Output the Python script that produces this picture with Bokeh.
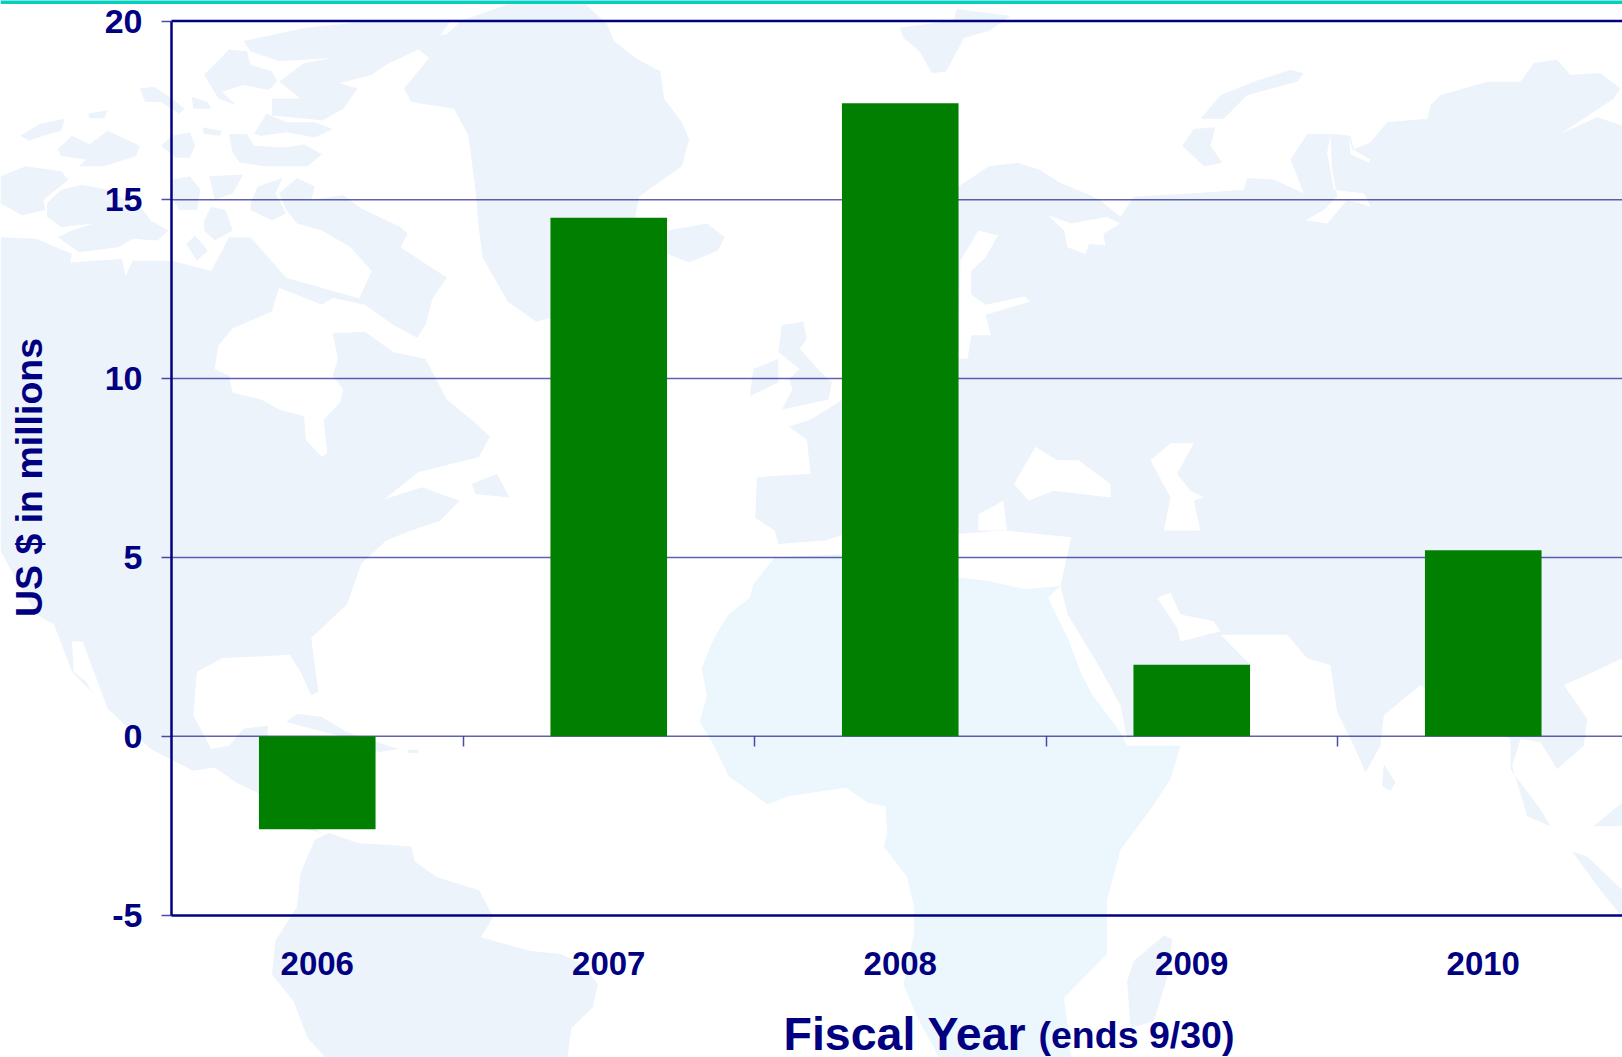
import math

from bokeh.embed import file_html
from bokeh.models import FixedTicker, Label, LinearAxis, Range1d
from bokeh.plotting import figure
from bokeh.resources import INLINE

# Chart data
years = ["2006", "2007", "2008", "2009", "2010"]
results = [-2.6, 14.5, 17.7, 2.0, 5.2]
y_ticks = [-5, 0, 5, 10, 15, 20]
y_tick_labels = ["-5", "0", "5", "10", "15", "20"]
grid_levels = [0, 5, 10, 15]

# Page geometry
WIDTH, HEIGHT = 1622, 1057
PLOT_LEFT = 171.0
CATEGORY_PX = 291.5
ZERO_PX = 735.7
UNIT_PX = 35.76

NAVY = "#000080"
GREEN = "#007F00"
TEAL = "#06CFC0"
FONT = "Liberation Sans"
LAND = "#EDF3FA"
LAND_WARM = "#ECF7FD"
WATER = "#FFFFFF"


def x_at(px):
    return (px - PLOT_LEFT) / CATEGORY_PX


def y_at(py):
    return (ZERO_PX - py) / UNIT_PX


# Backdrop outlines are traced on six tiles of the page: origin and stretch of each tile
TILES = {
    "NW": (0, 0, 2.8, 2.958),
    "SW": (0, 530, 2.8, 2.975),
    "NC": (560, 0, 2.8, 2.958),
    "SC": (560, 530, 2.8, 2.975),
    "NE": (1120, 0, 3.0, 2.958),
    "SE": (1120, 530, 3.0, 2.975),
}


def outline(*parts):
    xs, ys = [], []
    for tile, pts in parts:
        ox, oy, sx, sy = TILES[tile]
        for a, b in pts:
            xs.append(x_at(ox + a / sx))
            ys.append(y_at(oy + b / sy))
    return xs, ys


land_shapes = [
    # North and Central America
    outline(
        ("NW", [(0, 700), (100, 705), (200, 750), (195, 775), (340, 765), (350, 815), (370, 770),
                (480, 770), (590, 800), (640, 700), (700, 700), (800, 820), (1000, 880),
                (1100, 1040), (1190, 1060), (1250, 1180), (1330, 1250), (1370, 1290),
                (1340, 1350), (1170, 1395), (1075, 1475), (1180, 1440), (1285, 1480), (1230, 1540),
                (1150, 1568)]),
        ("SW", [(1080, 30), (1010, 100), (970, 220), (870, 320), (890, 480), (870, 490), (840, 420),
                (810, 370), (620, 380), (550, 420), (540, 550), (590, 650), (640, 640), (680, 590),
                (750, 580), (740, 700), (830, 860), (900, 900), (860, 890), (720, 780), (660, 750),
                (600, 705), (540, 715), (420, 650), (310, 540), (200, 420), (150, 280), (100, 250),
                (20, 100), (0, 60)]),
    ),
    # Newfoundland
    outline(("NW", [(1320, 1430), (1390, 1400), (1425, 1470), (1330, 1460)])),
    # Cuba and Hispaniola
    outline(("SW", [(800, 570), (830, 545), (900, 555), (970, 600), (1115, 650), (1060, 660), (980, 620)])),
    outline(("SW", [(1140, 652), (1170, 652), (1170, 662), (1140, 662)])),
    # Arctic archipelago
    outline(("NW", [(55, 400), (110, 365), (180, 350), (170, 385), (120, 400), (80, 415)])),
    outline(("NW", [(160, 440), (200, 400), (250, 425), (300, 385), (330, 400), (390, 430), (380, 460),
                    (290, 490), (220, 490), (240, 470), (170, 460)])),
    outline(("NW", [(245, 335), (300, 325), (290, 348), (250, 348)])),
    outline(("NW", [(390, 260), (430, 255), (480, 290), (515, 320), (500, 335), (450, 300), (405, 300)])),
    outline(("NW", [(535, 285), (580, 300), (590, 320), (540, 320)])),
    outline(("NW", [(565, 375), (620, 385), (615, 400), (570, 395)])),
    outline(("NW", [(0, 520), (70, 490), (170, 505), (190, 530), (120, 590), (125, 620), (60, 635), (0, 600)])),
    outline(("NW", [(130, 600), (170, 560), (230, 545), (300, 560), (350, 590), (400, 620), (420, 650),
                    (470, 680), (440, 710), (370, 705), (330, 730), (220, 745), (160, 700), (200, 680),
                    (260, 660), (170, 670), (130, 640)])),
    outline(("NW", [(480, 400), (530, 390), (545, 430), (530, 465), (490, 465), (450, 430)])),
    outline(("NW", [(480, 530), (530, 520), (560, 560), (550, 620), (500, 620), (480, 580)])),
    outline(("NW", [(585, 520), (680, 515), (650, 570), (600, 590)])),
    outline(("NW", [(700, 600), (720, 550), (790, 525), (770, 570), (800, 630), (760, 650), (700, 620)])),
    outline(("NW", [(780, 570), (830, 525), (880, 550), (870, 590), (960, 575), (1010, 615), (1120, 670),
                    (1140, 690), (1120, 730), (1250, 820), (1210, 880), (1190, 960), (1165, 1000),
                    (1040, 930), (1000, 890), (1040, 800), (980, 730), (900, 680), (830, 660), (800, 620)])),
    outline(("NW", [(570, 650), (590, 610), (630, 620), (650, 680), (600, 710), (570, 680)])),
    outline(("NW", [(520, 720), (545, 695), (580, 740), (550, 770)])),
    outline(("NW", [(640, 395), (690, 395), (710, 430), (800, 435), (850, 425), (900, 455), (860, 490),
                    (740, 490), (670, 480), (650, 450)])),
    outline(("NW", [(710, 395), (745, 335), (800, 360), (880, 360), (930, 380), (880, 405), (800, 390), (730, 400)])),
    outline(("NW", [(620, 270), (680, 250), (750, 265), (775, 240), (760, 210), (700, 190), (690, 150),
                    (640, 145), (570, 220), (610, 290), (660, 310)])),
    outline(("NW", [(860, 80), (1050, 60), (1260, 60), (1220, 120), (1080, 190), (1040, 220), (950, 245),
                    (1000, 260), (960, 320), (900, 355), (860, 350), (760, 340), (760, 290), (840, 290),
                    (780, 240), (850, 185), (930, 170), (780, 180), (700, 150), (680, 120)])),
    # Greenland
    outline(
        ("NW", [(1500, 950), (1420, 890), (1350, 760), (1340, 680), (1330, 560), (1310, 400), (1270, 320),
                (1150, 300), (1130, 260), (1200, 170), (1140, 120), (1250, 100), (1290, 60), (1450, 0)]),
        ("NC", [(60, 0), (130, 70), (150, 120), (210, 170), (280, 210), (290, 290), (340, 360), (360, 410),
                (340, 490), (220, 580), (210, 640), (100, 900)]),
    ),
    # North Atlantic islands
    outline(("NC", [(300, 680), (410, 660), (460, 700), (440, 740), (360, 775), (300, 750)])),
    outline(("NC", [(620, 960), (680, 950), (690, 1000), (670, 1030), (720, 1090), (760, 1130), (750, 1180),
                    (620, 1210), (650, 1150), (640, 1120), (670, 1090), (610, 1040)])),
    outline(("NC", [(540, 1090), (610, 1060), (610, 1130), (530, 1170)])),
    outline(("NC", [(950, 80), (1100, 60), (1110, 25), (1260, 45), (1200, 90), (1130, 110), (1080, 210),
                    (1040, 215), (1005, 150), (960, 110)])),
    # Arctic Russia islands
    outline(("NE", [(240, 350), (300, 280), (400, 240), (510, 205), (550, 215), (530, 240), (380, 280), (310, 350)])),
    outline(("NE", [(185, 430), (220, 380), (285, 375), (270, 430), (305, 480), (250, 490)])),
    # Eurasia
    outline(
        ("NC", [(640, 1260), (690, 1300), (700, 1400), (550, 1410), (545, 1530), (600, 1568)]),
        ("SC", [(610, 40), (740, 30), (800, 10), (1120, 10), (1240, 0), (1430, 20), (1400, 165), (1420, 250),
                (1500, 390), (1568, 520)]),
        ("SE", [(20, 620), (390, 400), (300, 310), (500, 310), (560, 380), (630, 400), (650, 540), (700, 640),
                (735, 720), (780, 640), (790, 550), (900, 460), (1170, 620), (1170, 710), (1260, 830),
                (1290, 880), (1220, 850), (1175, 700), (1200, 620), (1260, 630), (1310, 710), (1390, 640),
                (1400, 560), (1330, 460), (1420, 420), (1506, 380)]),
        ("NE", [(1506, 370), (1430, 345), (1320, 395), (1480, 290), (1500, 260), (1440, 215), (1350, 220),
                (1310, 175), (1240, 185), (1200, 240), (1100, 240), (960, 280), (930, 310), (920, 350),
                (800, 360), (750, 420), (700, 440), (690, 400), (635, 395), (560, 395), (510, 470),
                (550, 570), (460, 530), (380, 525), (370, 560), (220, 570), (40, 580), (0, 640)]),
        ("NC", [(1510, 590), (1470, 570), (1400, 540), (1340, 500), (1280, 480), (1200, 490), (1114, 550),
                (950, 800), (790, 1180), (700, 1240)]),
    ),
    # Islands of the Indian Ocean and beyond
    outline(("SE", [(130, 1205), (155, 1215), (140, 1330), (100, 1460), (30, 1480), (20, 1340), (40, 1280)])),
    outline(("SE", [(790, 695), (825, 750), (810, 775), (785, 760)])),
    outline(("SE", [(1420, 880), (1480, 830), (1506, 810), (1506, 880)])),
    outline(("SE", [(1355, 955), (1400, 970), (1506, 1070), (1506, 1150), (1440, 1070)])),
    # South America
    outline(
        ("SW", [(880, 920), (920, 900), (1000, 930), (1150, 940), (1160, 985), (1220, 1030), (1340, 1070),
                (1380, 1150), (1345, 1210), (1480, 1250), (1568, 1260)]),
        ("SC", [(60, 1290), (105, 1350), (90, 1420), (30, 1480), (20, 1568)]),
        ("SW", [(910, 1568), (860, 1510), (820, 1400), (760, 1320), (770, 1220), (830, 1120), (840, 1020)]),
    ),
]

warm_shapes = [
    # Africa
    outline(
        ("SC", [(600, 80), (540, 160), (530, 200), (470, 250), (430, 320), (395, 410), (410, 490), (390, 570),
                (430, 640), (470, 730), (580, 815), (640, 790), (800, 765), (860, 810), (910, 820), (915, 900),
                (905, 940), (970, 1030), (990, 1120), (990, 1200), (960, 1350), (1000, 1450), (1060, 1568),
                (1430, 1568), (1410, 1390), (1530, 1260), (1530, 1100), (1568, 950)]),
        ("SE", [(90, 830), (150, 740), (180, 640), (20, 640)]),
        ("SC", [(1568, 600), (1490, 490), (1460, 430), (1420, 320), (1365, 200), (1400, 165), (1300, 175),
                (1200, 150), (1115, 140), (790, 70)]),
    ),
]

water_shapes = [
    # Hudson Bay and strait
    outline(("NW", [(610, 1020), (650, 970), (760, 920), (780, 850), (900, 900), (930, 880), (1020, 900),
                    (1100, 960), (1170, 1000), (1190, 1060), (1100, 1040), (1020, 980), (930, 985), (945, 1060),
                    (930, 1110), (960, 1150), (950, 1190), (905, 1240), (915, 1340), (900, 1350), (855, 1300),
                    (850, 1230), (780, 1210), (730, 1180), (650, 1160), (640, 1110), (600, 1090)])),
    outline(("NW", [(950, 780), (985, 760), (985, 795), (950, 800)])),
    # Gulf of California
    outline(("SW", [(200, 330), (230, 330), (300, 530), (280, 530), (240, 450), (205, 420)])),
    # Baltic and White Seas
    outline(("NC", [(1120, 770), (1170, 680), (1225, 695), (1190, 760), (1150, 800), (1150, 870), (1190, 900),
                    (1300, 875), (1315, 890), (1190, 930), (1205, 990), (1150, 990), (1140, 1060), (1114, 1060)])),
    outline(("NC", [(1365, 635), (1430, 660), (1530, 640), (1568, 660), (1520, 690), (1525, 725), (1480, 720),
                    (1470, 750), (1420, 730), (1410, 680)])),
    # Black Sea, Aegean and Caspian
    outline(("NC", [(1270, 1430), (1330, 1320), (1390, 1360), (1450, 1360), (1540, 1430), (1540, 1470),
                    (1380, 1450), (1310, 1480)])),
    outline(("NC", [(1170, 1520), (1240, 1480), (1250, 1568), (1170, 1568)])),
    outline(("NE", [(90, 1360), (150, 1310), (220, 1310), (170, 1400), (210, 1450), (250, 1470), (220, 1480),
                    (240, 1568), (130, 1568), (150, 1470)])),
    # Persian Gulf
    outline(("SE", [(110, 200), (150, 185), (180, 250), (280, 270), (300, 300), (180, 330), (170, 290)])),
    # Gulf of Ob
    outline(("NE", [(630, 400), (620, 450), (640, 560), (680, 565), (730, 570), (750, 610), (720, 600),
                    (680, 590), (620, 660), (555, 650), (610, 620), (650, 580), (635, 500)])),
    outline(("NE", [(685, 400), (695, 440), (750, 470), (745, 480), (690, 455)])),
]

p = figure(
    width=WIDTH,
    height=HEIGHT,
    output_backend="svg",
    toolbar_location=None,
    x_range=Range1d(x_at(0), x_at(WIDTH)),
    y_range=Range1d(y_at(HEIGHT), y_at(0)),
    x_axis_location=None,
    y_axis_location=None,
    min_border=0,
    min_border_left=0,
    min_border_right=0,
    min_border_top=0,
    min_border_bottom=0,
    outline_line_color=None,
    background_fill_color="white",
    border_fill_color="white",
)
p.grid.visible = False

# Faint world map behind the chart
p.patches([s[0] for s in land_shapes], [s[1] for s in land_shapes],
          fill_color=LAND, line_color=None)
p.patches([s[0] for s in warm_shapes], [s[1] for s in warm_shapes],
          fill_color=LAND_WARM, line_color=None)
p.patches([s[0] for s in water_shapes], [s[1] for s in water_shapes],
          fill_color=WATER, line_color=None)

# Strip along the top of the page
p.quad(left=[x_at(0)], right=[x_at(WIDTH)], top=[y_at(-3)], bottom=[y_at(3.4)],
       fill_color=TEAL, line_color=None)

# Horizontal rules start at the value axis
x_end = x_at(WIDTH)
p.segment(x0=[0] * len(grid_levels), x1=[x_end] * len(grid_levels),
          y0=grid_levels, y1=grid_levels, line_color=NAVY, line_alpha=0.62, line_width=1.5)
p.segment(x0=[0], x1=[x_end], y0=[20], y1=[20], line_color=NAVY, line_width=2.5)

# Bars
centers = [i + 0.5 for i in range(len(years))]
p.vbar(x=centers, top=results, bottom=0, width=0.4, fill_color=GREEN, line_color=None)

# Value axis
y_axis = LinearAxis(fixed_location=0, bounds=(-5, 20))
y_axis.ticker = FixedTicker(ticks=y_ticks)
y_axis.major_label_overrides = dict(zip(y_ticks, y_tick_labels))
y_axis.axis_line_color = NAVY
y_axis.axis_line_width = 2.5
y_axis.major_tick_line_color = NAVY
y_axis.major_tick_line_alpha = 0.7
y_axis.major_tick_line_width = 1.5
y_axis.major_tick_in = 0
y_axis.major_tick_out = 10
y_axis.minor_tick_line_color = None
y_axis.major_label_standoff = 19
y_axis.major_label_text_color = NAVY
y_axis.major_label_text_font = FONT
y_axis.major_label_text_font_style = "bold"
y_axis.major_label_text_font_size = "34px"
p.add_layout(y_axis, "left")

# Year labels along the bottom edge
x_axis = LinearAxis(fixed_location=-5, bounds=(0, x_end))
x_axis.ticker = FixedTicker(ticks=centers)
x_axis.major_label_overrides = dict(zip(centers, years))
x_axis.axis_line_color = NAVY
x_axis.axis_line_width = 2.5
x_axis.major_tick_line_color = None
x_axis.minor_tick_line_color = None
x_axis.major_tick_in = 0
x_axis.major_tick_out = 0
x_axis.major_label_standoff = 37
x_axis.major_label_text_color = NAVY
x_axis.major_label_text_font = FONT
x_axis.major_label_text_font_style = "bold"
x_axis.major_label_text_font_size = "33px"
p.add_layout(x_axis, "below")

# Category separators hang from the zero line
boundaries = list(range(1, len(years)))
sep_axis = LinearAxis(fixed_location=0)
sep_axis.ticker = FixedTicker(ticks=boundaries)
sep_axis.major_label_overrides = {b: "" for b in boundaries}
sep_axis.axis_line_color = None
sep_axis.major_tick_line_color = NAVY
sep_axis.major_tick_line_alpha = 0.7
sep_axis.major_tick_line_width = 1.5
sep_axis.major_tick_in = 0
sep_axis.major_tick_out = 10
sep_axis.minor_tick_line_color = None
p.add_layout(sep_axis, "below")

# Axis titles
p.add_layout(Label(x=x_at(28), y=y_at(477), text="US $ in millions", angle=math.pi / 2,
                   text_align="center", text_baseline="alphabetic", text_color=NAVY,
                   text_font=FONT, text_font_style="bold", text_font_size="37.5px"))
p.add_layout(Label(x=x_at(783), y=y_at(1033), text="Fiscal Year", text_align="left",
                   text_baseline="alphabetic", text_color=NAVY, text_font=FONT,
                   text_font_style="bold", text_font_size="46.5px"))
p.add_layout(Label(x=x_at(1038), y=y_at(1034), text="(ends 9/30)", text_align="left",
                   text_baseline="alphabetic", text_color=NAVY, text_font=FONT,
                   text_font_style="bold", text_font_size="37.5px"))

open("out.html", "w").write(file_html(p, INLINE))
